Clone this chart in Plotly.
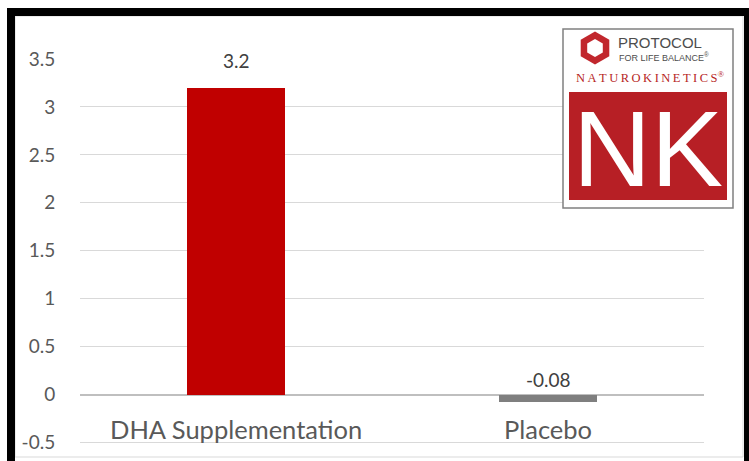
import plotly.graph_objects as go

# ---- data ----
categories = ["DHA Supplementation", "Placebo"]
values = [3.2, -0.08]
value_labels = ["3.2", "-0.08"]
y_ticks = [-0.5, 0, 0.5, 1, 1.5, 2, 2.5, 3, 3.5]
y_tick_labels = ["-0.5", "0", "0.5", "1", "1.5", "2", "2.5", "3", "3.5"]

# ---- styling ----
W, H = 749, 461
L, R, T, B = 80, 45, 58, 16
bar_colors = ["#C00000", "#7F7F7F"]
label_shift = [27, 15]
TXT = "#595959"
FONT = "Lato, Open Sans, Liberation Sans, sans-serif"


def xp(px):
    return (px - L) / (W - L - R)


def yp(py):
    return (H - B - py) / (H - T - B)


fig = go.Figure(
    go.Bar(
        x=categories,
        y=values,
        marker=dict(color=bar_colors, line=dict(width=0)),
        width=0.314,
        hoverinfo="skip",
    )
)

annotations = []
for c, v, t, s in zip(categories, values, value_labels, label_shift):
    annotations.append(dict(x=c, y=max(v, 0), xref="x", yref="y", text=t,
                            showarrow=False, yanchor="middle", yshift=s,
                            font=dict(family=FONT, size=19, color="#404040")))
for c in categories:
    annotations.append(dict(x=c, y=-0.36, xref="x", yref="y", text=c,
                            showarrow=False, yanchor="middle",
                            font=dict(family=FONT, size=25.5, color=TXT)))

shapes = []
# outer light-gray chart border
shapes.append(dict(type="rect", xref="paper", yref="paper",
                   x0=xp(15), x1=xp(743), y0=yp(16), y1=yp(457),
                   line=dict(color="#D9D9D9", width=1), fillcolor="rgba(0,0,0,0)", layer="below"))
# black frame
for (x0, x1, y0, y1) in [(7, 15, 8, 470), (7, 760, 8, 16), (744, 760, 8, 470)]:
    shapes.append(dict(type="rect", xref="paper", yref="paper",
                       x0=xp(x0), x1=xp(x1), y0=yp(y0), y1=yp(y1),
                       line=dict(width=0), fillcolor="#000000"))

# logo box
shapes.append(dict(type="rect", xref="paper", yref="paper",
                   x0=xp(563), x1=xp(733), y0=yp(29), y1=yp(208),
                   line=dict(color="#808080", width=1.5), fillcolor="#FFFFFF"))
shapes.append(dict(type="rect", xref="paper", yref="paper",
                   x0=xp(569), x1=xp(727), y0=yp(92), y1=yp(200),
                   line=dict(width=0), fillcolor="#B71F25"))


def hexpath(cx, cy, r):
    import math
    pts = []
    for k in range(6):
        a = math.radians(90 + 60 * k)
        pts.append((xp(cx + r * math.cos(a)), yp(cy - r * math.sin(a))))
    return "M " + " L ".join(f"{a:.5f},{b:.5f}" for a, b in pts) + " Z"


shapes.append(dict(type="path", xref="paper", yref="paper", path=hexpath(595, 48, 16.5),
                   line=dict(width=0), fillcolor="#C1272D"))
shapes.append(dict(type="path", xref="paper", yref="paper", path=hexpath(595, 48, 9),
                   line=dict(width=0), fillcolor="#FFFFFF"))

NARROW = "Liberation Sans, Arial, sans-serif"
annotations += [
    dict(x=xp(648), y=yp(148), xref="paper", yref="paper", text="NK", showarrow=False,
         xanchor="center", yanchor="middle",
         font=dict(family=NARROW, size=108, color="#FFFFFF")),
    dict(x=xp(616), y=yp(42), xref="paper", yref="paper", text="PROTOCOL", showarrow=False,
         xanchor="left", yanchor="middle",
         font=dict(family=NARROW, size=15, color="#4D4D4D")),
    dict(x=xp(617), y=yp(57), xref="paper", yref="paper", text="FOR LIFE BALANCE<sup>®</sup>",
         showarrow=False, xanchor="left", yanchor="middle",
         font=dict(family=NARROW, size=9, color="#4D4D4D")),
    dict(x=xp(650), y=yp(77), xref="paper", yref="paper",
         text="N\u2009A\u2009T\u2009U\u2009R\u2009O\u2009K\u2009I\u2009N\u2009E\u2009T\u2009I\u2009C\u2009S<sup>®</sup>",
         showarrow=False, xanchor="center", yanchor="middle",
         font=dict(family="Liberation Serif, DejaVu Serif, serif", size=12.5, color="#B71F25")),
]

fig.update_layout(
    width=W, height=H,
    margin=dict(l=L, r=R, t=T, b=B, pad=0, autoexpand=False),
    paper_bgcolor="#FFFFFF", plot_bgcolor="#FFFFFF",
    showlegend=False,
    bargap=0,
    shapes=shapes,
    annotations=annotations,
    xaxis=dict(showticklabels=False, showgrid=False, zeroline=False, showline=False,
               ticks="", fixedrange=True, automargin=False),
    yaxis=dict(range=[-0.525, 3.51], tickvals=y_ticks, ticktext=y_tick_labels,
               showgrid=True, gridcolor="#D9D9D9", gridwidth=1.3,
               zeroline=True, zerolinecolor="#BFBFBF", zerolinewidth=1.5,
               showline=False, ticks="outside", ticklen=20, tickcolor="rgba(0,0,0,0)",
               tickfont=dict(family=FONT, size=19, color=TXT), fixedrange=True,
               automargin=False),
)

fig.write_html("out.html")
